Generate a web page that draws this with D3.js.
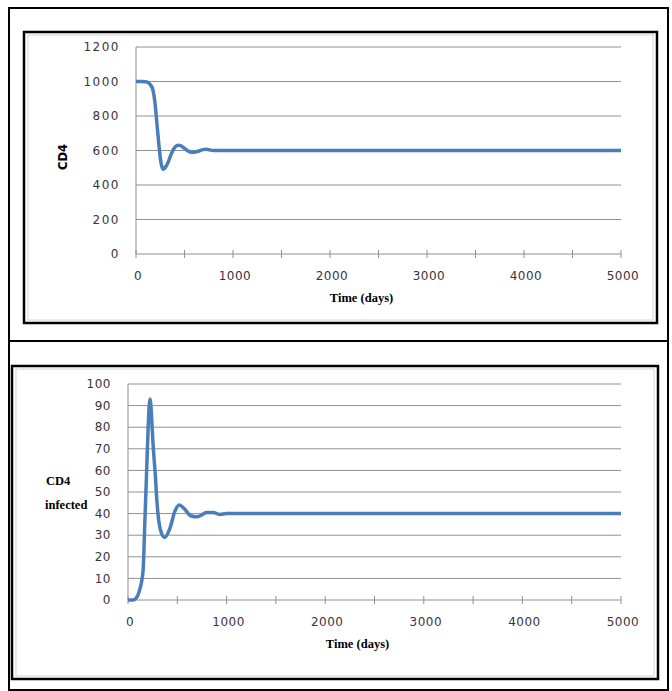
<!DOCTYPE html>
<html>
<head>
<meta charset="utf-8">
<script src="https://cdn.jsdelivr.net/npm/d3@7"></script>
<style>
  body { margin: 0; background: #fff; }
  svg { display: block; }
</style>
</head>
<body>
<svg id="chart" width="672" height="691"></svg>
<script>
// CD4 cells (top panel)
const cd4Days = [0, 50, 100, 130, 150, 175, 195, 215, 235, 250, 265, 280, 300, 330, 360, 400, 430, 460, 500, 540, 575, 610, 650, 690, 725, 760, 800, 5000];
const cd4Values = [1000, 1000, 998, 992, 980, 950, 880, 760, 640, 560, 510, 492, 500, 530, 575, 618, 631, 628, 612, 596, 590, 591, 597, 605, 607, 603, 600, 600];

// infected CD4 cells (bottom panel)
const infDays = [0, 50, 85, 120, 140, 155, 170, 187, 203, 215, 225, 232, 240, 253, 265, 277, 287, 304, 332, 373, 424, 475, 519, 576, 634, 700, 800, 865, 930, 1000, 5000];
const infValues = [0, 0, 1, 5, 9, 15, 35, 57, 78, 90, 93, 90, 84, 73, 65, 58, 50, 40, 32, 29, 33, 41, 44, 42, 39, 38.5, 40.5, 40.5, 39.6, 40, 40];

const dayTicks = [0, 1000, 2000, 3000, 4000, 5000];
const dayMinorTicks = d3.range(0, 5001, 500);
const cd4Ticks = [0, 200, 400, 600, 800, 1000, 1200];
const infTicks = [0, 10, 20, 30, 40, 50, 60, 70, 80, 90, 100];

const svg = d3.select("#chart");
const lineColor = "#4a7ebb";
const gridColor = "#909090";

// outer table frame
svg.append("rect")
  .attr("x", 9).attr("y", 8)
  .attr("width", 659).attr("height", 682)
  .attr("fill", "none").attr("stroke", "#000").attr("stroke-width", 2);
svg.append("line")
  .attr("x1", 9).attr("x2", 668)
  .attr("y1", 341).attr("y2", 341)
  .attr("stroke", "#000").attr("stroke-width", 2);

const drawPanel = (opts) => {
  const { box, plot, days, values, yTicks, yMax, labelSpacing, yLabelX } = opts;

  const g = svg.append("g");

  // chart frame
  g.append("rect")
    .attr("x", box.x).attr("y", box.y)
    .attr("width", box.w).attr("height", box.h)
    .attr("fill", "none").attr("stroke", "#000").attr("stroke-width", 2.5);
  // faint excel chart-area border
  g.append("rect")
    .attr("x", box.x + 4).attr("y", box.y + 3)
    .attr("width", box.w - 8).attr("height", box.h - 6)
    .attr("fill", "none").attr("stroke", "#d4d4d4").attr("stroke-width", 1);

  const x = d3.scaleLinear().domain([0, 5000]).range([plot.left, plot.right]);
  const y = d3.scaleLinear().domain([0, yMax]).range([plot.bottom, plot.top]);

  // gridlines
  g.append("g")
    .selectAll("line")
    .data(yTicks.filter((d) => d > 0))
    .enter()
    .append("line")
    .attr("x1", plot.left).attr("x2", plot.right)
    .attr("y1", (d) => y(d)).attr("y2", (d) => y(d))
    .attr("stroke", gridColor).attr("stroke-width", 1);

  // axes lines
  g.append("line")
    .attr("x1", plot.left).attr("x2", plot.left)
    .attr("y1", plot.top).attr("y2", plot.bottom)
    .attr("stroke", gridColor);
  g.append("line")
    .attr("x1", plot.left).attr("x2", plot.right)
    .attr("y1", plot.bottom).attr("y2", plot.bottom)
    .attr("stroke", gridColor);

  // crossing tick marks on x axis
  g.append("g")
    .selectAll("line")
    .data(dayMinorTicks)
    .enter()
    .append("line")
    .attr("x1", (d) => x(d)).attr("x2", (d) => x(d))
    .attr("y1", plot.bottom - 4).attr("y2", plot.bottom + 4)
    .attr("stroke", gridColor);

  // y tick labels
  g.append("g")
    .selectAll("text")
    .data(yTicks)
    .enter()
    .append("text")
    .attr("x", yLabelX)
    .attr("y", (d) => y(d))
    .attr("dy", "0.35em")
    .attr("text-anchor", "end")
    .style("font-family", "'DejaVu Sans', Verdana, sans-serif")
    .style("font-size", "12px")
    .style("letter-spacing", labelSpacing + "px")
    .style("fill", "#3a3340")
    .text((d) => d);

  // x tick labels
  g.append("g")
    .selectAll("text")
    .data(dayTicks)
    .enter()
    .append("text")
    .attr("x", (d) => x(d) + 2)
    .attr("y", plot.bottom + 22)
    .attr("dy", "0.35em")
    .attr("text-anchor", "middle")
    .style("font-family", "'DejaVu Sans', Verdana, sans-serif")
    .style("font-size", "12px")
    .style("letter-spacing", "0.5px")
    .style("fill", "#3a3340")
    .text((d) => d);

  // x axis title
  g.append("text")
    .attr("x", (plot.left + plot.right) / 2 - 17)
    .attr("y", plot.bottom + 48)
    .attr("text-anchor", "middle")
    .style("font-family", "'Liberation Serif', 'Times New Roman', serif")
    .style("font-size", "12.5px")
    .style("font-weight", "bold")
    .text("Time (days)");

  // the curve
  const line = d3
    .line()
    .x((d, i) => x(days[i]))
    .y((d) => y(d))
    .curve(d3.curveMonotoneX);

  g.append("path")
    .datum(values)
    .attr("d", line)
    .attr("fill", "none")
    .attr("stroke", lineColor)
    .attr("stroke-width", 3.5)
    .attr("stroke-linejoin", "round");

  return g;
};

const topPanel = drawPanel({
  box: { x: 24, y: 32, w: 633, h: 291 },
  plot: { left: 136, right: 621, top: 47, bottom: 254 },
  days: cd4Days,
  values: cd4Values,
  yTicks: cd4Ticks,
  yMax: 1200,
  labelSpacing: 1.5,
  yLabelX: 120
});

topPanel.append("text")
  .attr("transform", "translate(67,157) rotate(-90)")
  .attr("text-anchor", "middle")
  .style("font-family", "'DejaVu Sans', Verdana, sans-serif")
  .style("font-size", "11.5px")
  .style("font-weight", "bold")
  .text("CD4");

const bottomPanel = drawPanel({
  box: { x: 12, y: 366, w: 646, h: 313 },
  plot: { left: 128, right: 621, top: 384, bottom: 600 },
  days: infDays,
  values: infValues,
  yTicks: infTicks,
  yMax: 100,
  labelSpacing: 0.5,
  yLabelX: 111
});

bottomPanel.append("text")
  .attr("x", 46).attr("y", 485)
  .style("font-family", "'Liberation Serif', 'Times New Roman', serif")
  .style("font-size", "12.5px")
  .style("font-weight", "bold")
  .text("CD4");

bottomPanel.append("text")
  .attr("x", 45).attr("y", 509)
  .style("font-family", "'Liberation Serif', 'Times New Roman', serif")
  .style("font-size", "12.5px")
  .style("font-weight", "bold")
  .text("infected");
</script>
</body>
</html>
